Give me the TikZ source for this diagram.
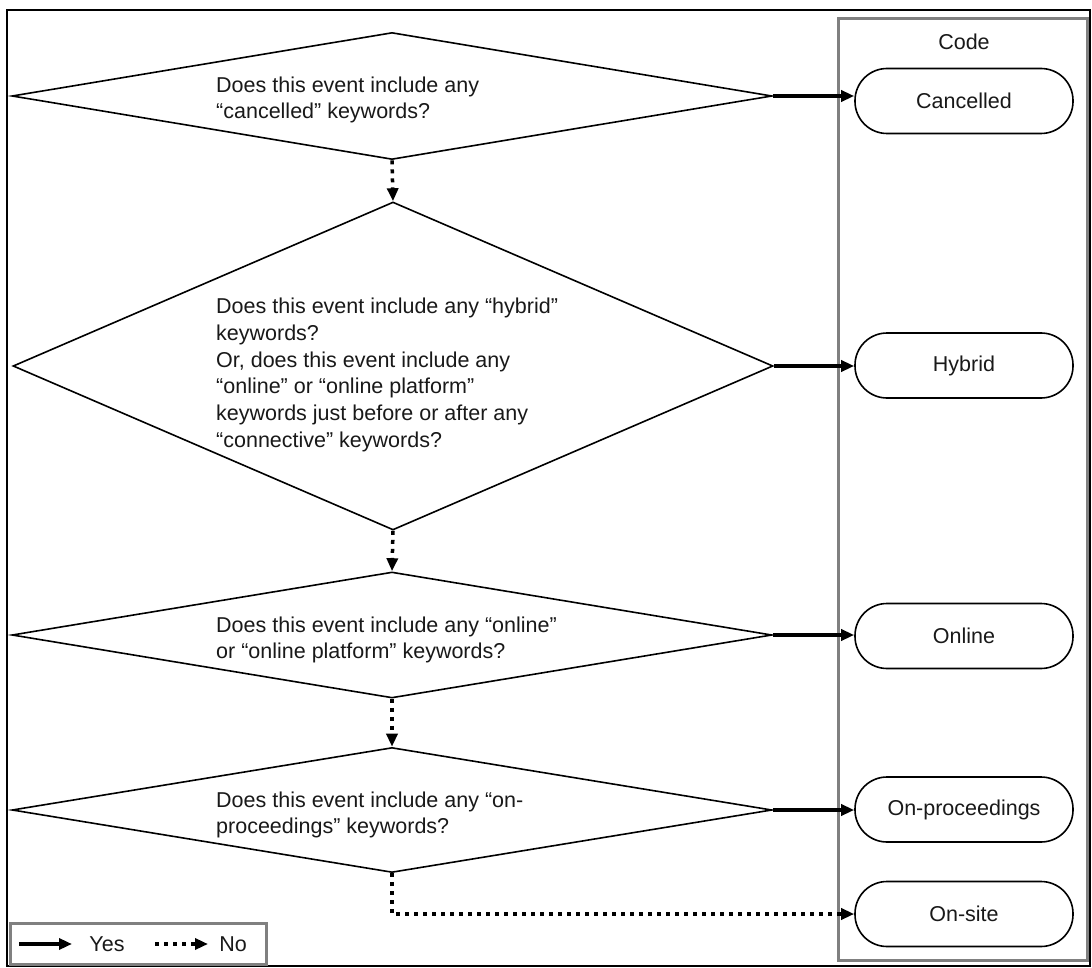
\documentclass[tikz,border=0pt]{standalone}
\usepackage{fontspec}
\setmainfont{Liberation Sans}
\usetikzlibrary{arrows.meta,shapes.geometric}
\begin{document}
\begin{tikzpicture}[x=1pt,y=-1pt,
  every node/.style={font=\fontsize{21.5}{26.8}\selectfont, text=black!90},
  dec/.style={draw=black, line width=1.6pt, shape=diamond, inner sep=0pt, minimum width=760pt, minimum height=#1},
  qtext/.style={anchor=west, align=left, inner sep=0pt},
  term/.style={draw=black, line width=1.6pt, rounded corners=32pt, minimum width=218pt, minimum height=65pt, inner sep=0pt},
  yes/.style={line width=3.5pt, -{Triangle[length=13pt,width=11pt]}},
  no/.style={line width=3.5pt, dash pattern=on 4pt off 5pt, -{Triangle[length=13pt,width=11pt]}},
  graybox/.style={draw=black!50, line width=3pt}
]
\useasboundingbox (0,0) rectangle (1092,968);
\fill[white] (0,0) rectangle (1092,968);
% outer frame and code column
\draw[line width=1.5pt] (7,10) rectangle (1090,966);
\draw[graybox] (838,19) rectangle (1087,960);
\node (code) at (964,42) {Code};

% decisions
\node[dec=127pt] (d1) at (392,96) {};
\node[dec=328pt] (d2) at (393,366) {};
\node[dec=126pt] (d3) at (392,635) {};
\node[dec=125pt] (d4) at (392,810) {};

\node[qtext] (t1) at (216,100) {Does this event include any\\``cancelled'' keywords?};
\node[qtext] (t2) at (216,375) {Does this event include any ``hybrid''\\keywords?\\Or, does this event include any\\``online'' or ``online platform''\\keywords just before or after any\\``connective'' keywords?};
\node[qtext] (t3) at (216,640) {Does this event include any ``online''\\or ``online platform'' keywords?};
\node[qtext] (t4) at (216,815) {Does this event include any ``on-\\proceedings'' keywords?};

% terminals
\node[term] (c1) at (964,101) {Cancelled};
\node[term] (c2) at (964,365.5) {Hybrid};
\node[term] (c3) at (964,636) {Online};
\node[term] (c4) at (964,809.5) {On-proceedings};
\node[term] (c5) at (964,914) {On-site};

% yes arrows
\draw[yes] (d1.east) -- (d1.east -| c1.west);
\draw[yes] (d2.east) -- (d2.east -| c2.west);
\draw[yes] (d3.east) -- (d3.east -| c3.west);
\draw[yes] (d4.east) -- (d4.east -| c4.west);

% no arrows
\draw[no] (d1.south) -- (d2.north);
\draw[no] (d2.south) -- (d3.north);
\draw[no] (d3.south) -- (d4.north);
\draw[no] (d4.south) |- (c5.west);

% legend
\draw[graybox] (10,923) rectangle (266,964);
\coordinate (ya) at (19,944);
\coordinate (yb) at (72,944);
\coordinate (na) at (155,944);
\coordinate (nb) at (208,944);
\draw[yes] (ya) -- (yb);
\node (yl) at (107,944) {Yes};
\draw[no] (na) -- (nb);
\node (nl) at (233,944) {No};
\end{tikzpicture}
\end{document}
